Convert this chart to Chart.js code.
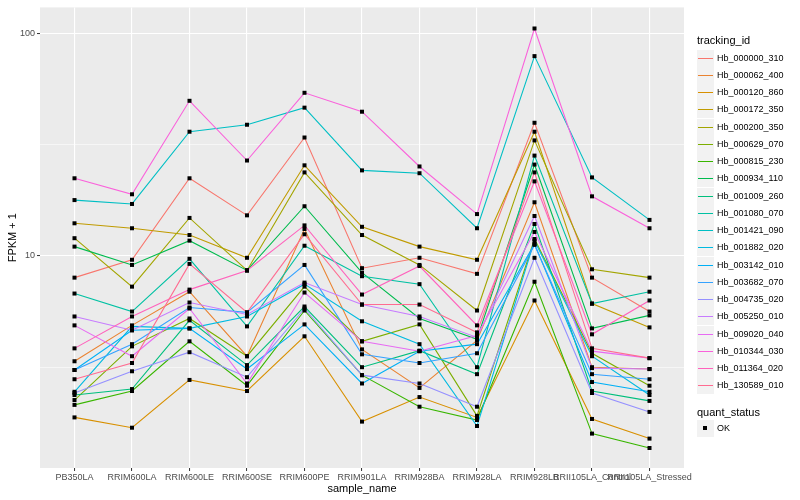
<!DOCTYPE html>
<html>
<head>
<meta charset="utf-8">
<script src="https://cdn.jsdelivr.net/npm/chart.js@4.4.1/dist/chart.umd.min.js"></script>
<style>
  html, body { margin: 0; padding: 0; background: #fff; }
  #wrap { position: relative; width: 800px; height: 500px; font-family: "Liberation Sans", Arial, sans-serif; }
  #chart { position: absolute; left: 0; top: 0; }
  .lg-title { position: absolute; left: 697px; font-size: 11px; color: #000; line-height: 13px; }
  .lg-item { position: absolute; left: 697px; height: 17px; width: 100px; }
  .lg-key { position: absolute; left: 0; top: 0; width: 17px; height: 17px; background: #F2F2F2; }
  .lg-line { position: absolute; left: 1px; width: 15px; top: 8px; height: 1px; }
  .lg-dot { position: absolute; left: 6px; top: 6px; width: 4px; height: 4px; background: #000; }
  .lg-text { position: absolute; left: 20px; top: 0; line-height: 17px; font-size: 9px; color: #000; white-space: nowrap; }
</style>
</head>
<body>
<div id="wrap">
  <canvas id="chart" width="800" height="500"></canvas>
  <div id="legend"></div>
</div>
<script>
(function () {
  'use strict';

  // ---- data (FPKM + 1) ----
  const categories = ['PB350LA', 'RRIM600LA', 'RRIM600LE', 'RRIM600SE', 'RRIM600PE', 'RRIM901LA',
    'RRIM928BA', 'RRIM928LA', 'RRIM928LB', 'RRII105LA_Control', 'RRII105LA_Stressed'];

  const trackingIds = ['Hb_000000_310', 'Hb_000062_400', 'Hb_000120_860', 'Hb_000172_350', 'Hb_000200_350',
    'Hb_000629_070', 'Hb_000815_230', 'Hb_000934_110', 'Hb_001009_260', 'Hb_001080_070',
    'Hb_001421_090', 'Hb_001882_020', 'Hb_003142_010', 'Hb_003682_070', 'Hb_004735_020',
    'Hb_005250_010', 'Hb_009020_040', 'Hb_010344_030', 'Hb_011364_020', 'Hb_130589_010'];

  const hb000000_310 = [7.98, 9.6, 22.3, 15.2, 34.0, 8.8, 9.8, 8.3, 39.6, 7.98, 5.62];
  const hb000062_400 = [3.36, 4.87, 6.9, 3.54, 13.2, 3.8, 2.55, 4.17, 17.4, 3.16, 3.1];
  const hb000120_860 = [1.88, 1.69, 2.77, 2.47, 4.35, 1.8, 2.32, 1.88, 6.3, 1.85, 1.51];
  const hb000172_350 = [14.0, 13.3, 12.4, 9.8, 25.5, 13.5, 11.0, 9.6, 36.1, 6.1, 4.77];
  const hb000200_350 = [12.0, 7.27, 14.8, 8.6, 23.7, 12.4, 9.1, 5.68, 33.0, 8.7, 7.98];
  const hb000629_070 = [2.25, 3.92, 5.23, 3.54, 7.27, 4.13, 4.92, 1.91, 11.9, 3.65, 2.61];
  const hb000815_230 = [2.14, 2.47, 4.13, 2.61, 5.68, 2.91, 2.1, 1.83, 7.65, 1.59, 1.37];
  const hb000934_110 = [11.0, 9.1, 11.7, 8.6, 16.7, 8.4, 5.23, 4.22, 25.7, 4.72, 5.4];
  const hb001009_260 = [2.37, 2.52, 5.13, 3.23, 5.92, 3.16, 3.75, 2.94, 13.9, 2.47, 2.23];
  const hb001080_070 = [6.77, 5.62, 9.7, 4.82, 11.1, 8.1, 7.46, 3.16, 28.2, 6.1, 6.9];
  const hb001421_090 = [17.8, 17.1, 36.1, 38.8, 46.3, 24.2, 23.5, 13.3, 78.9, 22.5, 14.5];
  const hb001882_020 = [2.45, 4.82, 4.72, 5.34, 7.46, 5.08, 4.01, 1.72, 11.7, 3.54, 2.37];
  const hb003142_010 = [3.07, 4.63, 4.72, 3.1, 4.92, 2.67, 3.73, 4.01, 11.3, 2.71, 2.45];
  const hb003682_070 = [3.07, 4.01, 5.86, 5.57, 9.1, 3.61, 3.3, 3.65, 11.2, 2.94, 2.79];
  const hb004735_020 = [2.42, 3.03, 3.69, 2.85, 5.8, 2.91, 2.67, 2.1, 9.8, 2.42, 1.99];
  const hb005250_010 = [5.34, 4.63, 6.17, 5.45, 7.58, 6.04, 5.34, 4.3, 15.1, 3.13, 3.1];
  const hb009020_040 = [4.87, 3.54, 5.8, 2.67, 6.84, 4.13, 3.73, 4.39, 12.8, 3.73, 3.47];
  const hb010344_030 = [22.3, 18.9, 49.7, 26.8, 54.0, 44.4, 25.2, 15.4, 105, 18.5, 13.3];
  const hb011364_020 = [3.84, 5.34, 7.05, 8.6, 13.7, 6.7, 9.0, 4.87, 21.6, 4.44, 6.3];
  const hb130589_010 = [2.79, 3.3, 9.2, 5.57, 12.5, 6.04, 6.04, 4.53, 23.7, 3.84, 3.47];

  const seriesValues = [hb000000_310, hb000062_400, hb000120_860, hb000172_350, hb000200_350,
    hb000629_070, hb000815_230, hb000934_110, hb001009_260, hb001080_070,
    hb001421_090, hb001882_020, hb003142_010, hb003682_070, hb004735_020,
    hb005250_010, hb009020_040, hb010344_030, hb011364_020, hb130589_010];

  const yTicks = [3.1623, 10, 31.623, 100];
  const yLabelled = [10, 100];

  // ggplot2 default hue palette for 20 groups
  const palette = ['#F8766D', '#EA8331', '#D89000', '#C09B00', '#A3A500', '#7CAE00', '#39B600', '#00BB4E',
    '#00BF7D', '#00C1A3', '#00BFC4', '#00BAE0', '#00B0F6', '#35A2FF', '#9590FF', '#C77CFF',
    '#E76BF3', '#FA62DB', '#FF62BC', '#FF6C91'];

  // ---- plugins ----
  const panelBg = {
    id: 'panelBg',
    beforeDraw(chart) {
      const a = chart.chartArea, c = chart.ctx;
      c.save();
      c.fillStyle = '#EBEBEB';
      c.fillRect(a.left, a.top, a.right - a.left, a.bottom - a.top);
      c.restore();
    }
  };

  // black squares on top of every line (geom_point layer)
  const pointsOnTop = {
    id: 'pointsOnTop',
    afterDatasetsDraw(chart) {
      const c = chart.ctx;
      c.save();
      c.fillStyle = '#000';
      chart.data.datasets.forEach((ds, i) => {
        chart.getDatasetMeta(i).data.forEach(pt => {
          c.fillRect(pt.x - 2, pt.y - 2, 4, 4);
        });
      });
      c.restore();
    }
  };

  const datasets = seriesValues.map((vals, i) => ({
    label: trackingIds[i],
    data: vals.map((v, j) => ({ x: j, y: v })),
    borderColor: palette[i],
    backgroundColor: palette[i],
    borderWidth: 1.1,
    pointRadius: 0,
    tension: 0,
    order: seriesValues.length - i
  }));

  new Chart(document.getElementById('chart').getContext('2d'), {
    type: 'line',
    data: { datasets },
    options: {
      responsive: false,
      animation: false,
      layout: { padding: { top: 5, right: 116, left: 0, bottom: 0 } },
      plugins: { legend: { display: false }, tooltip: { enabled: false } },
      scales: {
        x: {
          type: 'linear',
          min: -0.6,
          max: categories.length - 0.4,
          afterBuildTicks: (s) => { s.ticks = categories.map((c, i) => ({ value: i })); },
          afterFit: (s) => { s.height = 32; },
          ticks: {
            autoSkip: false, maxRotation: 0, minRotation: 0, padding: 1,
            color: '#4D4D4D', font: { family: 'Liberation Sans', size: 9 },
            callback: (v) => categories[v]
          },
          grid: { color: '#FFFFFF', lineWidth: 1.1, tickLength: 3, tickColor: '#333333', tickWidth: 1 },
          border: { display: false },
          title: { display: true, text: 'sample_name', color: '#000', font: { family: 'Liberation Sans', size: 11 }, padding: { top: 0, bottom: 4 } }
        },
        y: {
          type: 'logarithmic',
          min: 1.114,
          max: 130.6,
          afterBuildTicks: (s) => { s.ticks = yTicks.map(v => ({ value: v })); },
          afterFit: (s) => { s.width = 40; },
          ticks: {
            padding: 2, color: '#4D4D4D', font: { family: 'Liberation Sans', size: 9 },
            callback: (v) => (yLabelled.includes(v) ? String(v) : '')
          },
          grid: {
            color: '#FFFFFF',
            lineWidth: (ctx) => (ctx.tick && yLabelled.includes(ctx.tick.value) ? 1.1 : 0.55),
            tickLength: 3,
            tickColor: (ctx) => (ctx.tick && yLabelled.includes(ctx.tick.value) ? '#333333' : 'rgba(0,0,0,0)'),
            tickWidth: 1
          },
          border: { display: false },
          title: { display: true, text: 'FPKM + 1', color: '#000', font: { family: 'Liberation Sans', size: 11 }, padding: { top: 6, bottom: 0 } }
        }
      }
    },
    plugins: [panelBg, pointsOnTop]
  });

  // ---- legend (HTML, ggplot style) ----
  const legend = document.getElementById('legend');
  let html = '<div class="lg-title" style="top:34px">tracking_id</div>';
  trackingIds.forEach((id, i) => {
    const top = Math.round(49.5 + i * 17.25);
    html += '<div class="lg-item" style="top:' + top + 'px"><div class="lg-key"><div class="lg-line" style="background:' +
      palette[i] + '"></div></div><div class="lg-text">' + id + '</div></div>';
  });
  html += '<div class="lg-title" style="top:406px">quant_status</div>';
  html += '<div class="lg-item" style="top:420px"><div class="lg-key"><div class="lg-dot"></div></div><div class="lg-text">OK</div></div>';
  legend.innerHTML = html;
})();
</script>
</body>
</html>
